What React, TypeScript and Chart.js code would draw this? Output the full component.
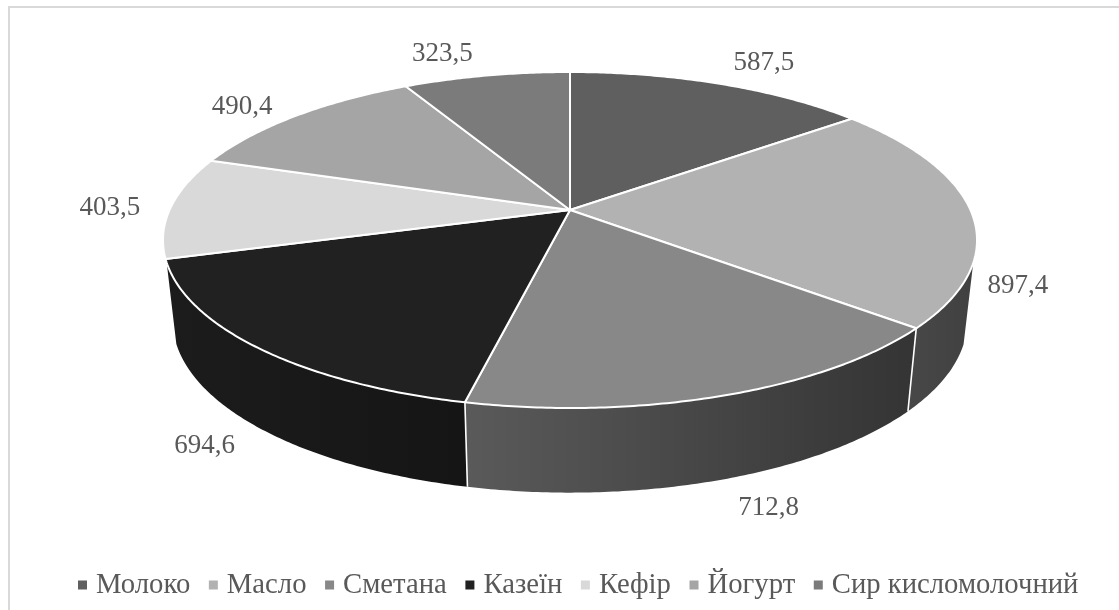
import React, { useEffect, useRef } from "react";
import { Chart, registerables } from "chart.js";

Chart.register(...registerables);

const categories = ["Молоко", "Масло", "Сметана", "Казеїн", "Кефір", "Йогурт", "Сир кисломолочний"];
const production = [587.5, 897.4, 712.8, 694.6, 403.5, 490.4, 323.5];
const valueLabels = ["587,5", "897,4", "712,8", "694,6", "403,5", "490,4", "323,5"];
const faceColors = ["#5f5f5f", "#b2b2b2", "#888888", "#212121", "#d9d9d9", "#a5a5a5", "#7b7b7b"];
// Rim shading per slice: [left end, right end] of the side wall
const wallColors = [
  ["#4a4a4a", "#4a4a4a"],
  ["#484848", "#404040"],
  ["#5a5a5a", "#343434"],
  ["#1c1c1c", "#151515"],
  ["#2a2a2a", "#2a2a2a"],
  ["#444444", "#444444"],
  ["#444444", "#444444"],
];
// Label anchor relative to the projected rim point at the slice's mid angle
const labelNudges = [
  [44, -21],
  [46.5, 74],
  [44, 112],
  [-51.5, 99],
  [-61, 1],
  [-53.5, -9],
  [-44, -22],
];

const TEXT_COLOR = "#595959";
const FONT = '"Liberation Serif", serif';

// Tilted-disc projection, expressed as ratios of the pie radius
const KX = 1.907;
const KY = 0.7745;
const PERSPECTIVE = -0.1786;
const WALL_SCALE = 0.976;
const WALL_DEPTH = 0.381;
const WALL_DEPTH_FRONT = 0.022;
const WALL_MIN_V = 0.3;

type Pt = { x: number; y: number };

function topPoint(el: any, angle: number, r = 1): Pt {
  const u = Math.cos(angle) * r;
  const v = Math.sin(angle) * r;
  const w = 1 + PERSPECTIVE * v;
  return {
    x: el.x + (el.outerRadius * KX * u) / w,
    y: el.y + (el.outerRadius * KY * v) / w,
  };
}

function bottomPoint(el: any, angle: number): Pt {
  const p = topPoint(el, angle);
  const v = Math.sin(angle);
  return {
    x: el.x + (p.x - el.x) * WALL_SCALE,
    y: p.y + el.outerRadius * (WALL_DEPTH + WALL_DEPTH_FRONT * Math.max(v, 0)),
  };
}

function angleSamples(a0: number, a1: number): number[] {
  const n = Math.max(2, Math.ceil((a1 - a0) / 0.01));
  const out: number[] = [];
  for (let i = 0; i <= n; i++) out.push(a0 + ((a1 - a0) * i) / n);
  return out;
}

const tiltedPie = {
  id: "tiltedPie",
  beforeDatasetsDraw(chart: any) {
    const ctx: CanvasRenderingContext2D = chart.ctx;
    const arcs = chart.getDatasetMeta(0).data;
    ctx.save();

    // Side walls: only the part of the rim that faces the viewer
    arcs.forEach((el: any, i: number) => {
      const pts = angleSamples(el.startAngle, el.endAngle).filter((a) => Math.sin(a) >= WALL_MIN_V);
      if (pts.length < 2) return;
      const top = pts.map((a) => topPoint(el, a));
      const bottom = pts.map((a) => bottomPoint(el, a));
      const xs = top.concat(bottom).map((p) => p.x);
      const grad = ctx.createLinearGradient(Math.min(...xs), 0, Math.max(...xs), 0);
      grad.addColorStop(0, wallColors[i][0]);
      grad.addColorStop(1, wallColors[i][1]);
      ctx.beginPath();
      top.forEach((p, k) => (k ? ctx.lineTo(p.x, p.y) : ctx.moveTo(p.x, p.y)));
      bottom.reverse().forEach((p) => ctx.lineTo(p.x, p.y));
      ctx.closePath();
      ctx.fillStyle = grad;
      ctx.fill();
    });

    // White seams between walls
    ctx.strokeStyle = "#ffffff";
    ctx.lineWidth = 1.6;
    arcs.forEach((el: any) => {
      if (Math.sin(el.startAngle) < WALL_MIN_V) return;
      const a = topPoint(el, el.startAngle);
      const b = bottomPoint(el, el.startAngle);
      ctx.beginPath();
      ctx.moveTo(a.x, a.y);
      ctx.lineTo(b.x, b.y);
      ctx.stroke();
    });

    // Top face of each slice
    ctx.lineJoin = "round";
    ctx.lineWidth = 2;
    arcs.forEach((el: any) => {
      ctx.beginPath();
      ctx.moveTo(el.x, el.y);
      angleSamples(el.startAngle, el.endAngle).forEach((a) => {
        const p = topPoint(el, a);
        ctx.lineTo(p.x, p.y);
      });
      ctx.closePath();
      ctx.fillStyle = el.options.backgroundColor;
      ctx.fill();
      ctx.stroke();
    });

    ctx.restore();
    return false;
  },
  afterDraw(chart: any) {
    const ctx: CanvasRenderingContext2D = chart.ctx;
    const arcs = chart.getDatasetMeta(0).data;
    ctx.save();
    ctx.fillStyle = TEXT_COLOR;
    ctx.textBaseline = "middle";

    // Value labels outside the rim
    ctx.font = `27px ${FONT}`;
    ctx.textAlign = "center";
    arcs.forEach((el: any, i: number) => {
      const p = topPoint(el, (el.startAngle + el.endAngle) / 2);
      ctx.fillText(valueLabels[i], p.x + labelNudges[i][0], p.y + labelNudges[i][1]);
    });

    // Legend row along the bottom edge
    ctx.textAlign = "left";
    ctx.font = `28.7px ${FONT}`;
    let x = 78;
    const y = 585;
    categories.forEach((name, i) => {
      ctx.fillStyle = faceColors[i];
      ctx.fillRect(x, y - 4.5, 9, 9);
      ctx.fillStyle = TEXT_COLOR;
      ctx.fillText(name, x + 18, y);
      x += 18 + ctx.measureText(name).width + 18.6;
    });
    ctx.restore();
  },
};

export default function App() {
  const canvasRef = useRef<HTMLCanvasElement>(null);

  useEffect(() => {
    document.body.style.margin = "0";
    document.body.style.background = "#ffffff";
    const chart = new Chart(canvasRef.current!, {
      type: "pie",
      data: {
        labels: categories,
        datasets: [{ data: production, backgroundColor: faceColors, borderWidth: 0 }],
      },
      options: {
        animation: false,
        responsive: false,
        layout: { padding: { left: 21, bottom: 190 } },
        plugins: { legend: { display: false }, tooltip: { enabled: false } },
      },
      plugins: [tiltedPie],
    });
    return () => chart.destroy();
  }, []);

  return (
    <div style={{ position: "absolute", left: 0, top: 0, width: 1119, height: 610, overflow: "hidden", background: "#fff" }}>
      <canvas ref={canvasRef} width={1119} height={610} style={{ display: "block" }} />
      <div
        style={{
          position: "absolute",
          left: 8,
          top: 6,
          right: 0,
          bottom: 0,
          boxSizing: "border-box",
          borderLeft: "2px solid #d9d9d9",
          borderTop: "2px solid #d9d9d9",
          pointerEvents: "none",
        }}
      />
    </div>
  );
}
